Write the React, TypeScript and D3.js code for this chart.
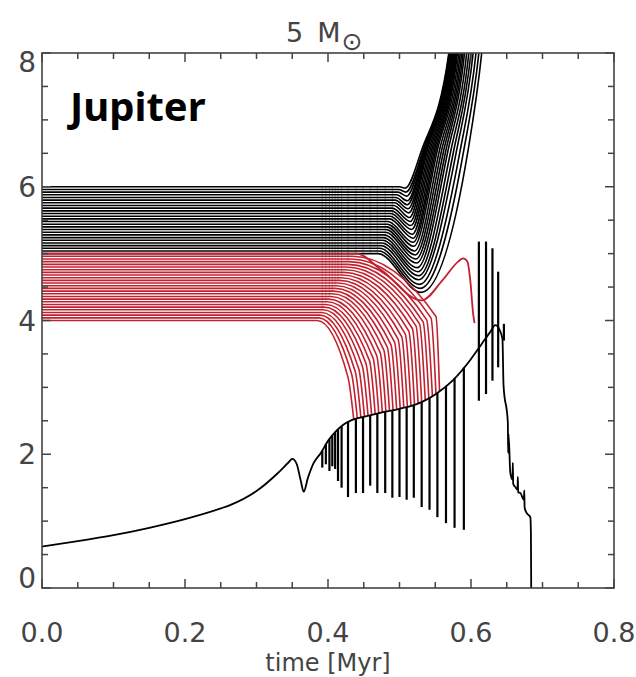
import React, { useEffect, useRef } from 'react';
import * as d3 from 'd3';

// axis ticks
const xTicks = [0, 0.2, 0.4, 0.6, 0.8];
const xTickLabels = ['0.0', '0.2', '0.4', '0.6', '0.8'];
const yTicks = [0, 2, 4, 6, 8];
const yTickLabels = ['0', '2', '4', '6', '8'];

// stellar radius [time Myr, AU]
const radiusCurve: [number, number][] = [
  [0.0, 0.62], [0.05, 0.7], [0.1, 0.79], [0.15, 0.9], [0.2, 1.03], [0.25, 1.19],
  [0.263, 1.24], [0.3, 1.45], [0.33, 1.72], [0.345, 1.88], [0.35, 1.93], [0.356, 1.86],
  [0.362, 1.6], [0.366, 1.44], [0.372, 1.65], [0.38, 1.87], [0.39, 2.02], [0.4, 2.2],
  [0.41, 2.33], [0.42, 2.43], [0.433, 2.51], [0.45, 2.56], [0.473, 2.62], [0.5, 2.68],
  [0.519, 2.73], [0.533, 2.79], [0.552, 2.91], [0.575, 3.11], [0.599, 3.41], [0.615, 3.65],
  [0.627, 3.83], [0.634, 3.93], [0.64, 3.86], [0.644, 3.72], [0.6455, 3.03], [0.6515, 2.48],
  [0.652, 2.02], [0.6525, 2.3], [0.655, 1.72], [0.658, 1.62], [0.6585, 1.87], [0.659, 1.56],
  [0.662, 1.51], [0.665, 1.47], [0.6655, 1.66], [0.666, 1.43], [0.669, 1.42], [0.674, 1.32],
  [0.6745, 1.46], [0.675, 1.2], [0.678, 1.12], [0.683, 1.06], [0.6838, 0.82], [0.6842, 0.0]
];

// thermal pulses: downward spikes of the radius
const pulseTimes = [0.392, 0.397, 0.402, 0.406, 0.41, 0.414, 0.419, 0.428, 0.439, 0.449, 0.459, 0.469,
  0.48, 0.49, 0.5, 0.51, 0.52, 0.531, 0.542, 0.553, 0.565, 0.577, 0.59];
const pulseDepths = [1.8, 1.85, 1.75, 1.82, 1.78, 1.6, 1.5, 1.36, 1.42, 1.42, 1.53, 1.42,
  1.42, 1.35, 1.36, 1.32, 1.35, 1.21, 1.17, 1.06, 0.97, 0.9, 0.87];
// late pulses reaching upward
const flashTimes = [0.611, 0.621, 0.63, 0.638, 0.646];
const flashTops = [5.18, 5.18, 5.08, 4.73, 3.95];
const flashBottoms = [2.8, 2.9, 3.1, 3.3, 3.7];

// outer planets (black), a0 = 5..6 AU
const blackStart = [5.0, 5.04, 5.08, 5.12, 5.16, 5.2, 5.24, 5.28, 5.32, 5.36, 5.4, 5.44, 5.48,
  5.52, 5.56, 5.6, 5.64, 5.68, 5.72, 5.76, 5.8, 5.84, 5.88, 5.92, 5.96, 6.0];
const blackFlat = [0.47, 0.471, 0.472, 0.474, 0.475, 0.476, 0.477, 0.478, 0.48, 0.481, 0.482, 0.483, 0.484,
  0.486, 0.487, 0.488, 0.489, 0.49, 0.492, 0.493, 0.494, 0.495, 0.496, 0.498, 0.499, 0.5];
const blackMinT = [0.53, 0.529, 0.528, 0.527, 0.527, 0.526, 0.525, 0.524, 0.523, 0.522, 0.521, 0.52, 0.519,
  0.519, 0.518, 0.517, 0.516, 0.515, 0.514, 0.513, 0.512, 0.511, 0.511, 0.51, 0.509, 0.508];
const blackMinA = [4.42, 4.48, 4.54, 4.61, 4.67, 4.73, 4.79, 4.86, 4.92, 4.98, 5.04, 5.11, 5.17,
  5.23, 5.29, 5.36, 5.42, 5.48, 5.54, 5.61, 5.67, 5.73, 5.79, 5.86, 5.92, 5.98];
const blackMidT = [0.596, 0.59, 0.585, 0.58, 0.576, 0.572, 0.568, 0.565, 0.562, 0.559, 0.556, 0.553, 0.551,
  0.549, 0.547, 0.545, 0.543, 0.541, 0.539, 0.538, 0.537, 0.536, 0.535, 0.534, 0.533, 0.531];
const blackTopT = [0.615, 0.611, 0.607, 0.603, 0.6, 0.597, 0.594, 0.591, 0.589, 0.587, 0.585, 0.583, 0.581,
  0.58, 0.579, 0.578, 0.577, 0.576, 0.575, 0.574, 0.573, 0.572, 0.571, 0.57, 0.5695, 0.569];

// inner planets (red), a0 = 4..4.96 AU, engulfed at redPlunge
const redStart = [4.0, 4.04, 4.08, 4.12, 4.16, 4.2, 4.24, 4.28, 4.32, 4.36, 4.4, 4.44, 4.48,
  4.52, 4.56, 4.6, 4.64, 4.68, 4.72, 4.76, 4.8, 4.84, 4.88, 4.92, 4.96];
const redBend = [0.385, 0.387, 0.389, 0.391, 0.393, 0.395, 0.397, 0.399, 0.401, 0.404, 0.406, 0.408, 0.41,
  0.412, 0.414, 0.416, 0.418, 0.42, 0.422, 0.424, 0.426, 0.428, 0.43, 0.432, 0.434];
const redKneeT = [0.428, 0.433, 0.438, 0.443, 0.448, 0.453, 0.458, 0.463, 0.468, 0.473, 0.478, 0.483, 0.488,
  0.493, 0.498, 0.503, 0.508, 0.513, 0.518, 0.523, 0.528, 0.533, 0.538, 0.544, 0.551];
const redKneeA = [3.15, 3.2, 3.24, 3.28, 3.32, 3.36, 3.4, 3.44, 3.48, 3.52, 3.56, 3.6, 3.64,
  3.68, 3.72, 3.76, 3.8, 3.84, 3.88, 3.92, 3.95, 3.98, 4.01, 4.04, 4.06];
const redPlunge = [0.436, 0.441, 0.446, 0.451, 0.456, 0.461, 0.466, 0.471, 0.476, 0.481, 0.486, 0.491, 0.496,
  0.501, 0.506, 0.511, 0.516, 0.521, 0.526, 0.531, 0.536, 0.541, 0.546, 0.551, 0.556];
// outermost red planet (5 AU)
const redTopPath: [number, number][] = [
  [0, 5.0], [0.44, 5.0], [0.475, 4.75], [0.531, 4.3], [0.56, 4.6], [0.582, 4.88], [0.589, 4.93],
  [0.595, 4.88], [0.599, 4.6], [0.603, 4.1], [0.605, 3.96]
];

const W = 636;
const H = 677;
const margin = { top: 53, right: 22, bottom: 89, left: 42 };
const RED = '#c2202e';
const AXIS = '#444';
const LABEL = '#444';

const App: React.FC = () => {
  const ref = useRef<SVGSVGElement>(null);

  useEffect(() => {
    if (!ref.current) return;
    const width = W - margin.left - margin.right;
    const height = H - margin.top - margin.bottom;

    d3.select(ref.current).selectAll('*').remove();
    const root = d3.select(ref.current).attr('width', W).attr('height', H);
    const svg = root.append('g').attr('transform', `translate(${margin.left},${margin.top})`);

    const x = d3.scaleLinear().domain([0, 0.8]).range([0, width]);
    const y = d3.scaleLinear().domain([0, 8]).range([height, 0]);
    const env = d3.scaleLinear()
      .domain(radiusCurve.map(d => d[0]))
      .range(radiusCurve.map(d => d[1]));

    root.append('defs').append('clipPath').attr('id', 'plot-clip')
      .append('rect').attr('width', width).attr('height', height);

    const plot = svg.append('g').attr('clip-path', 'url(#plot-clip)');

    const line = d3.line<[number, number]>()
      .x(d => x(d[0]))
      .y(d => y(d[1]))
      .curve(d3.curveMonotoneX);

    // black orbits
    blackStart.forEach((a0, i) => {
      const pts: [number, number][] = [
        [0, a0], [blackFlat[i], a0], [blackMinT[i], blackMinA[i]],
        [blackMidT[i], 6.55], [blackTopT[i], 8], [blackTopT[i] + 0.008, 8.9]
      ];
      plot.append('path')
        .attr('d', line(pts))
        .attr('fill', 'none')
        .attr('stroke', '#000')
        .attr('stroke-width', 1.6);
    });

    // red orbits
    redStart.forEach((a0, i) => {
      const pts: [number, number][] = [
        [0, a0], [redBend[i], a0], [redKneeT[i], redKneeA[i]], [redPlunge[i], env(redPlunge[i])]
      ];
      plot.append('path')
        .attr('d', line(pts))
        .attr('fill', 'none')
        .attr('stroke', RED)
        .attr('stroke-width', 1.6);
    });
    plot.append('path')
      .attr('d', line(redTopPath))
      .attr('fill', 'none')
      .attr('stroke', RED)
      .attr('stroke-width', 1.8);

    // pulse striations across the orbit bands
    pulseTimes.filter(t => t < 0.5).forEach(t => {
      plot.append('line')
        .attr('x1', x(t)).attr('x2', x(t))
        .attr('y1', y(6)).attr('y2', y(5))
        .attr('stroke', '#000').attr('stroke-opacity', 0.3).attr('stroke-width', 1);
      const flat = redStart.filter((a, i) => redBend[i] > t);
      if (flat.length) {
        plot.append('line')
          .attr('x1', x(t)).attr('x2', x(t))
          .attr('y1', y(5)).attr('y2', y(d3.min(flat) as number))
          .attr('stroke', '#7a0010').attr('stroke-opacity', 0.25).attr('stroke-width', 1);
      }
    });

    // pulse spikes
    pulseTimes.forEach((t, i) => {
      plot.append('line')
        .attr('x1', x(t)).attr('x2', x(t))
        .attr('y1', y(env(t))).attr('y2', y(pulseDepths[i]))
        .attr('stroke', '#000').attr('stroke-width', 2.2);
    });
    flashTimes.forEach((t, i) => {
      plot.append('line')
        .attr('x1', x(t)).attr('x2', x(t))
        .attr('y1', y(flashTops[i])).attr('y2', y(flashBottoms[i]))
        .attr('stroke', '#000').attr('stroke-width', 2.2);
    });

    // stellar radius
    plot.append('path')
      .attr('d', line(radiusCurve))
      .attr('fill', 'none')
      .attr('stroke', '#000')
      .attr('stroke-width', 1.8)
      .attr('stroke-linejoin', 'round');

    // frame and ticks on all four sides
    svg.append('rect')
      .attr('width', width).attr('height', height)
      .attr('fill', 'none').attr('stroke', AXIS).attr('stroke-width', 1.6);

    const xMinor = d3.range(0, 0.8001, 0.05);
    const yMinor = d3.range(0, 8.001, 0.5);
    const tick = (x1: number, y1: number, x2: number, y2: number) =>
      svg.append('line').attr('x1', x1).attr('y1', y1).attr('x2', x2).attr('y2', y2)
        .attr('stroke', AXIS).attr('stroke-width', 1.5);
    xMinor.forEach(v => {
      const len = xTicks.some(m => Math.abs(m - v) < 1e-6) ? 9 : 6;
      tick(x(v), height, x(v), height - len);
      tick(x(v), 0, x(v), len);
    });
    yMinor.forEach(v => {
      const len = yTicks.includes(v) ? 9 : 6;
      tick(0, y(v), len, y(v));
      tick(width, y(v), width - len, y(v));
    });

    const font = '"DejaVu Sans", Verdana, sans-serif';
    svg.selectAll('.xlab').data(xTicks).join('text')
      .attr('x', d => x(d))
      .attr('y', height + 54)
      .attr('text-anchor', 'middle')
      .style('font-family', font).style('font-size', '27px').attr('fill', LABEL)
      .text((d, i) => xTickLabels[i]);
    svg.selectAll('.ylab').data(yTicks).join('text')
      .attr('x', -6)
      .attr('y', d => y(d) + (d === 0 ? -10 : d === 8 ? 9 : 0))
      .attr('dy', '0.36em')
      .attr('text-anchor', 'end')
      .style('font-family', font).style('font-size', '28px').attr('fill', LABEL)
      .text((d, i) => yTickLabels[i]);

    svg.append('text')
      .attr('x', width / 2)
      .attr('y', height + 83)
      .attr('text-anchor', 'middle')
      .style('font-family', font).style('font-size', '24px').attr('fill', LABEL)
      .text('time [Myr]');

    // title
    const title = root.append('text')
      .attr('x', 286).attr('y', 42)
      .style('font-family', font).style('font-size', '27px').attr('fill', LABEL);
    title.append('tspan').text('5');
    title.append('tspan').attr('dx', 14).text('M');
    title.append('tspan').attr('dy', 8).attr('dx', 1)
      .style('font-size', '25px').text('⊙');

    root.append('text')
      .attr('x', 70).attr('y', 121)
      .style('font-family', '"Noto Sans", "Open Sans", sans-serif')
      .style('font-weight', 'bold').style('font-size', '40px')
      .attr('fill', '#000')
      .text('Jupiter');
  }, []);

  return (
    <div style={{ position: 'absolute', left: 0, top: 0 }}>
      <svg ref={ref} style={{ display: 'block', background: '#fff' }}></svg>
    </div>
  );
};

export default App;
